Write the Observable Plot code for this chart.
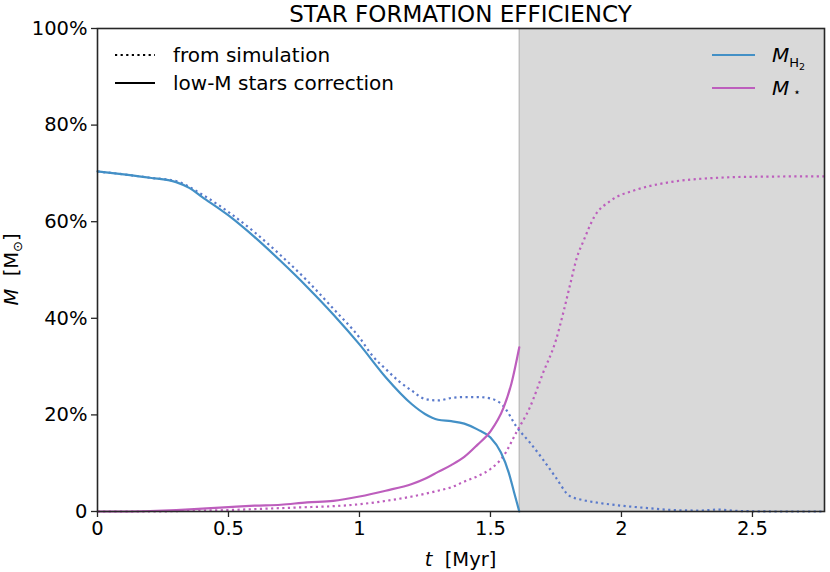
<!DOCTYPE html>
<html>
<head>
<meta charset="utf-8">
<script src="https://cdn.jsdelivr.net/npm/d3@7"></script>
<script src="https://cdn.jsdelivr.net/npm/@observablehq/plot@0.6"></script>
<style>
  html, body { margin: 0; padding: 0; background: #fff; }
  #chart svg { display: block; }
</style>
</head>
<body>
<div id="chart"></div>
<script>
// ---- data ----
const h2CorrT = [0,0.1,0.2,0.3,0.35,0.4,0.5,0.6,0.7,0.8,0.9,1.0,1.1,1.2,1.25,1.3,1.35,1.4,1.45,1.5,1.54,1.57,1.59,1.61];
const h2CorrV = [70.4,69.8,69.1,68.2,67.0,65.1,61.3,56.8,51.8,46.5,40.8,34.6,27.8,22.2,20.2,19.0,18.7,18.2,17.0,15.3,12.2,8.0,4.0,0];

const h2SimT = [0,0.1,0.2,0.3,0.4,0.5,0.6,0.7,0.8,0.9,1.0,1.05,1.1,1.15,1.2,1.25,1.3,1.35,1.4,1.45,1.5,1.55,1.6,1.65,1.7,1.75,1.8,1.85,1.9,2.0,2.1,2.2,2.3,2.37,2.45,2.6,2.775];
const h2SimV = [70.4,69.8,69.1,68.4,65.6,62.0,57.8,53.0,47.8,42.0,36.0,32.2,29.5,27.0,25.0,23.3,23.0,23.5,23.7,23.7,23.4,21.8,17.5,14.3,10.8,7.0,3.3,2.4,1.9,1.2,0.7,0.3,0.2,0.4,0.1,0,0];

const starCorrT = [0,0.1,0.2,0.3,0.4,0.5,0.6,0.7,0.8,0.9,1.0,1.1,1.2,1.25,1.3,1.35,1.4,1.45,1.5,1.55,1.58,1.61];
const starCorrV = [0,0,0.1,0.3,0.6,0.9,1.2,1.4,1.9,2.2,3.1,4.3,5.7,6.8,8.2,9.6,11.3,13.8,16.6,21.5,26.5,34.0];

const starSimT = [0,0.2,0.4,0.5,0.6,0.7,0.8,0.9,1.0,1.1,1.2,1.3,1.35,1.4,1.45,1.5,1.55,1.6,1.65,1.7,1.75,1.78,1.805,1.83,1.855,1.895,1.96,2.05,2.175,2.37,2.5,2.775];
const starSimV = [0,0,0.2,0.3,0.5,0.7,0.9,1.1,1.5,2.2,3.1,4.3,5.0,6.2,7.3,8.8,11.5,16.5,21.5,28.6,35.5,41.6,47.2,52.6,56.0,60.9,64.4,66.5,68.1,69.1,69.3,69.4];

const shadeStart = [1.61];
const xMax = 2.775;
const xTicks = [0, 0.5, 1, 1.5, 2, 2.5];
const xTickLabels = ["0", "0.5", "1", "1.5", "2", "2.5"];
const yTicks = [0, 20, 40, 60, 80, 100];
const yTickLabels = ["0", "20%", "40%", "60%", "80%", "100%"];

const blue = "#4390c6";
const blueDot = "#5a7acb";
const mag = "#bd5ebd";

const toRows = (ts, vs) => ts.map((t, i) => ({t, v: vs[i]}));
const shadeRows = shadeStart.map(s => ({x1: s, x2: xMax}));

const W = 830, H = 572;
const font = "DejaVu Sans, sans-serif";
const dots = "2.2,3.4";

const plot = Plot.plot({
  width: W, height: H,
  marginLeft: 97, marginRight: 6, marginTop: 28, marginBottom: 61,
  style: {fontFamily: font, fontSize: "19.5px", color: "#000", background: "#fff"},
  x: {domain: [0, xMax]},
  y: {domain: [0, 100]},
  marks: [
    Plot.rect(shadeRows, {x1: "x1", x2: "x2", y1: 0, y2: 100, fill: "#d9d9d9"}),
    Plot.ruleX(shadeStart, {stroke: "#bdbdbd", strokeWidth: 1.3}),
    Plot.line(toRows(h2SimT, h2SimV), {x: "t", y: "v", stroke: blueDot, strokeWidth: 2.2, strokeDasharray: dots, strokeLinecap: "butt", curve: "monotone-x"}),
    Plot.line(toRows(starSimT, starSimV), {x: "t", y: "v", stroke: mag, strokeWidth: 2.2, strokeDasharray: dots, strokeLinecap: "butt", curve: "monotone-x"}),
    Plot.line(toRows(h2CorrT, h2CorrV), {x: "t", y: "v", stroke: blue, strokeWidth: 2.2, curve: "monotone-x"}),
    Plot.line(toRows(starCorrT, starCorrV), {x: "t", y: "v", stroke: mag, strokeWidth: 2.2, curve: "monotone-x"}),
    Plot.axisX({ticks: xTicks, tickFormat: d => xTickLabels[xTicks.indexOf(d)], tickSize: 6, tickPadding: 4, label: null, stroke: "#262626", strokeWidth: 1.3}),
    Plot.axisY({ticks: yTicks, tickFormat: d => yTickLabels[yTicks.indexOf(d)], tickSize: 6, tickPadding: 4, label: null, stroke: "#262626", strokeWidth: 1.3}),
    Plot.frame({stroke: "#262626", strokeWidth: 1.6})
  ]
});

document.getElementById("chart").appendChild(plot);
const svg = d3.select(plot);

// title
svg.append("text").attr("x", (97 + 824) / 2).attr("y", 21.5)
  .attr("text-anchor", "middle").attr("font-family", font).attr("font-size", 23)
  .attr("fill", "#000").text("STAR FORMATION EFFICIENCY");

// x label
const xl = svg.append("text").attr("x", (97 + 824) / 2).attr("y", 566)
  .attr("text-anchor", "middle").attr("font-family", font).attr("font-size", 19.5).attr("fill", "#000");
xl.append("tspan").attr("font-style", "italic").text("t");
xl.append("tspan").text("\u00a0\u00a0[Myr]");

// y label
const yl = svg.append("text").attr("transform", `translate(18,${(28 + 511) / 2}) rotate(-90)`)
  .attr("text-anchor", "middle").attr("font-family", font).attr("font-size", 19.5).attr("fill", "#000");
yl.append("tspan").attr("font-style", "italic").text("M");
yl.append("tspan").text("\u00a0\u00a0[M");
yl.append("tspan").attr("font-size", 13).attr("dy", 4).text("\u2299");
yl.append("tspan").attr("dy", -4).text("]");

// left legend
const lg = svg.append("g").attr("font-family", font).attr("font-size", 20).attr("fill", "#000").attr("text-anchor", "start");
lg.append("line").attr("x1", 115).attr("x2", 155).attr("y1", 55).attr("y2", 55)
  .attr("stroke", "#000").attr("stroke-width", 2.2).attr("stroke-dasharray", dots);
lg.append("text").attr("x", 173).attr("y", 62).text("from simulation");
lg.append("line").attr("x1", 115).attr("x2", 155).attr("y1", 83).attr("y2", 83)
  .attr("stroke", "#000").attr("stroke-width", 2.2);
lg.append("text").attr("x", 173).attr("y", 90).text("low-M stars correction");

// right legend
const rg = svg.append("g").attr("font-family", font).attr("font-size", 20).attr("fill", "#000").attr("text-anchor", "start");
rg.append("line").attr("x1", 712).attr("x2", 755).attr("y1", 55).attr("y2", 55)
  .attr("stroke", blue).attr("stroke-width", 2.2);
const t1 = rg.append("text").attr("x", 772).attr("y", 62);
t1.append("tspan").attr("font-style", "italic").text("M");
t1.append("tspan").attr("font-size", 13).attr("dy", 5).text("H");
t1.append("tspan").attr("font-size", 9.5).attr("dy", 3).text("2");
rg.append("line").attr("x1", 712).attr("x2", 755).attr("y1", 88).attr("y2", 88)
  .attr("stroke", mag).attr("stroke-width", 2.2);
const t2 = rg.append("text").attr("x", 772).attr("y", 95);
t2.append("tspan").attr("font-style", "italic").text("M");
t2.append("tspan").attr("font-size", 12).attr("dy", 1).attr("dx", 4).text("\u22c6");
</script>
</body>
</html>
